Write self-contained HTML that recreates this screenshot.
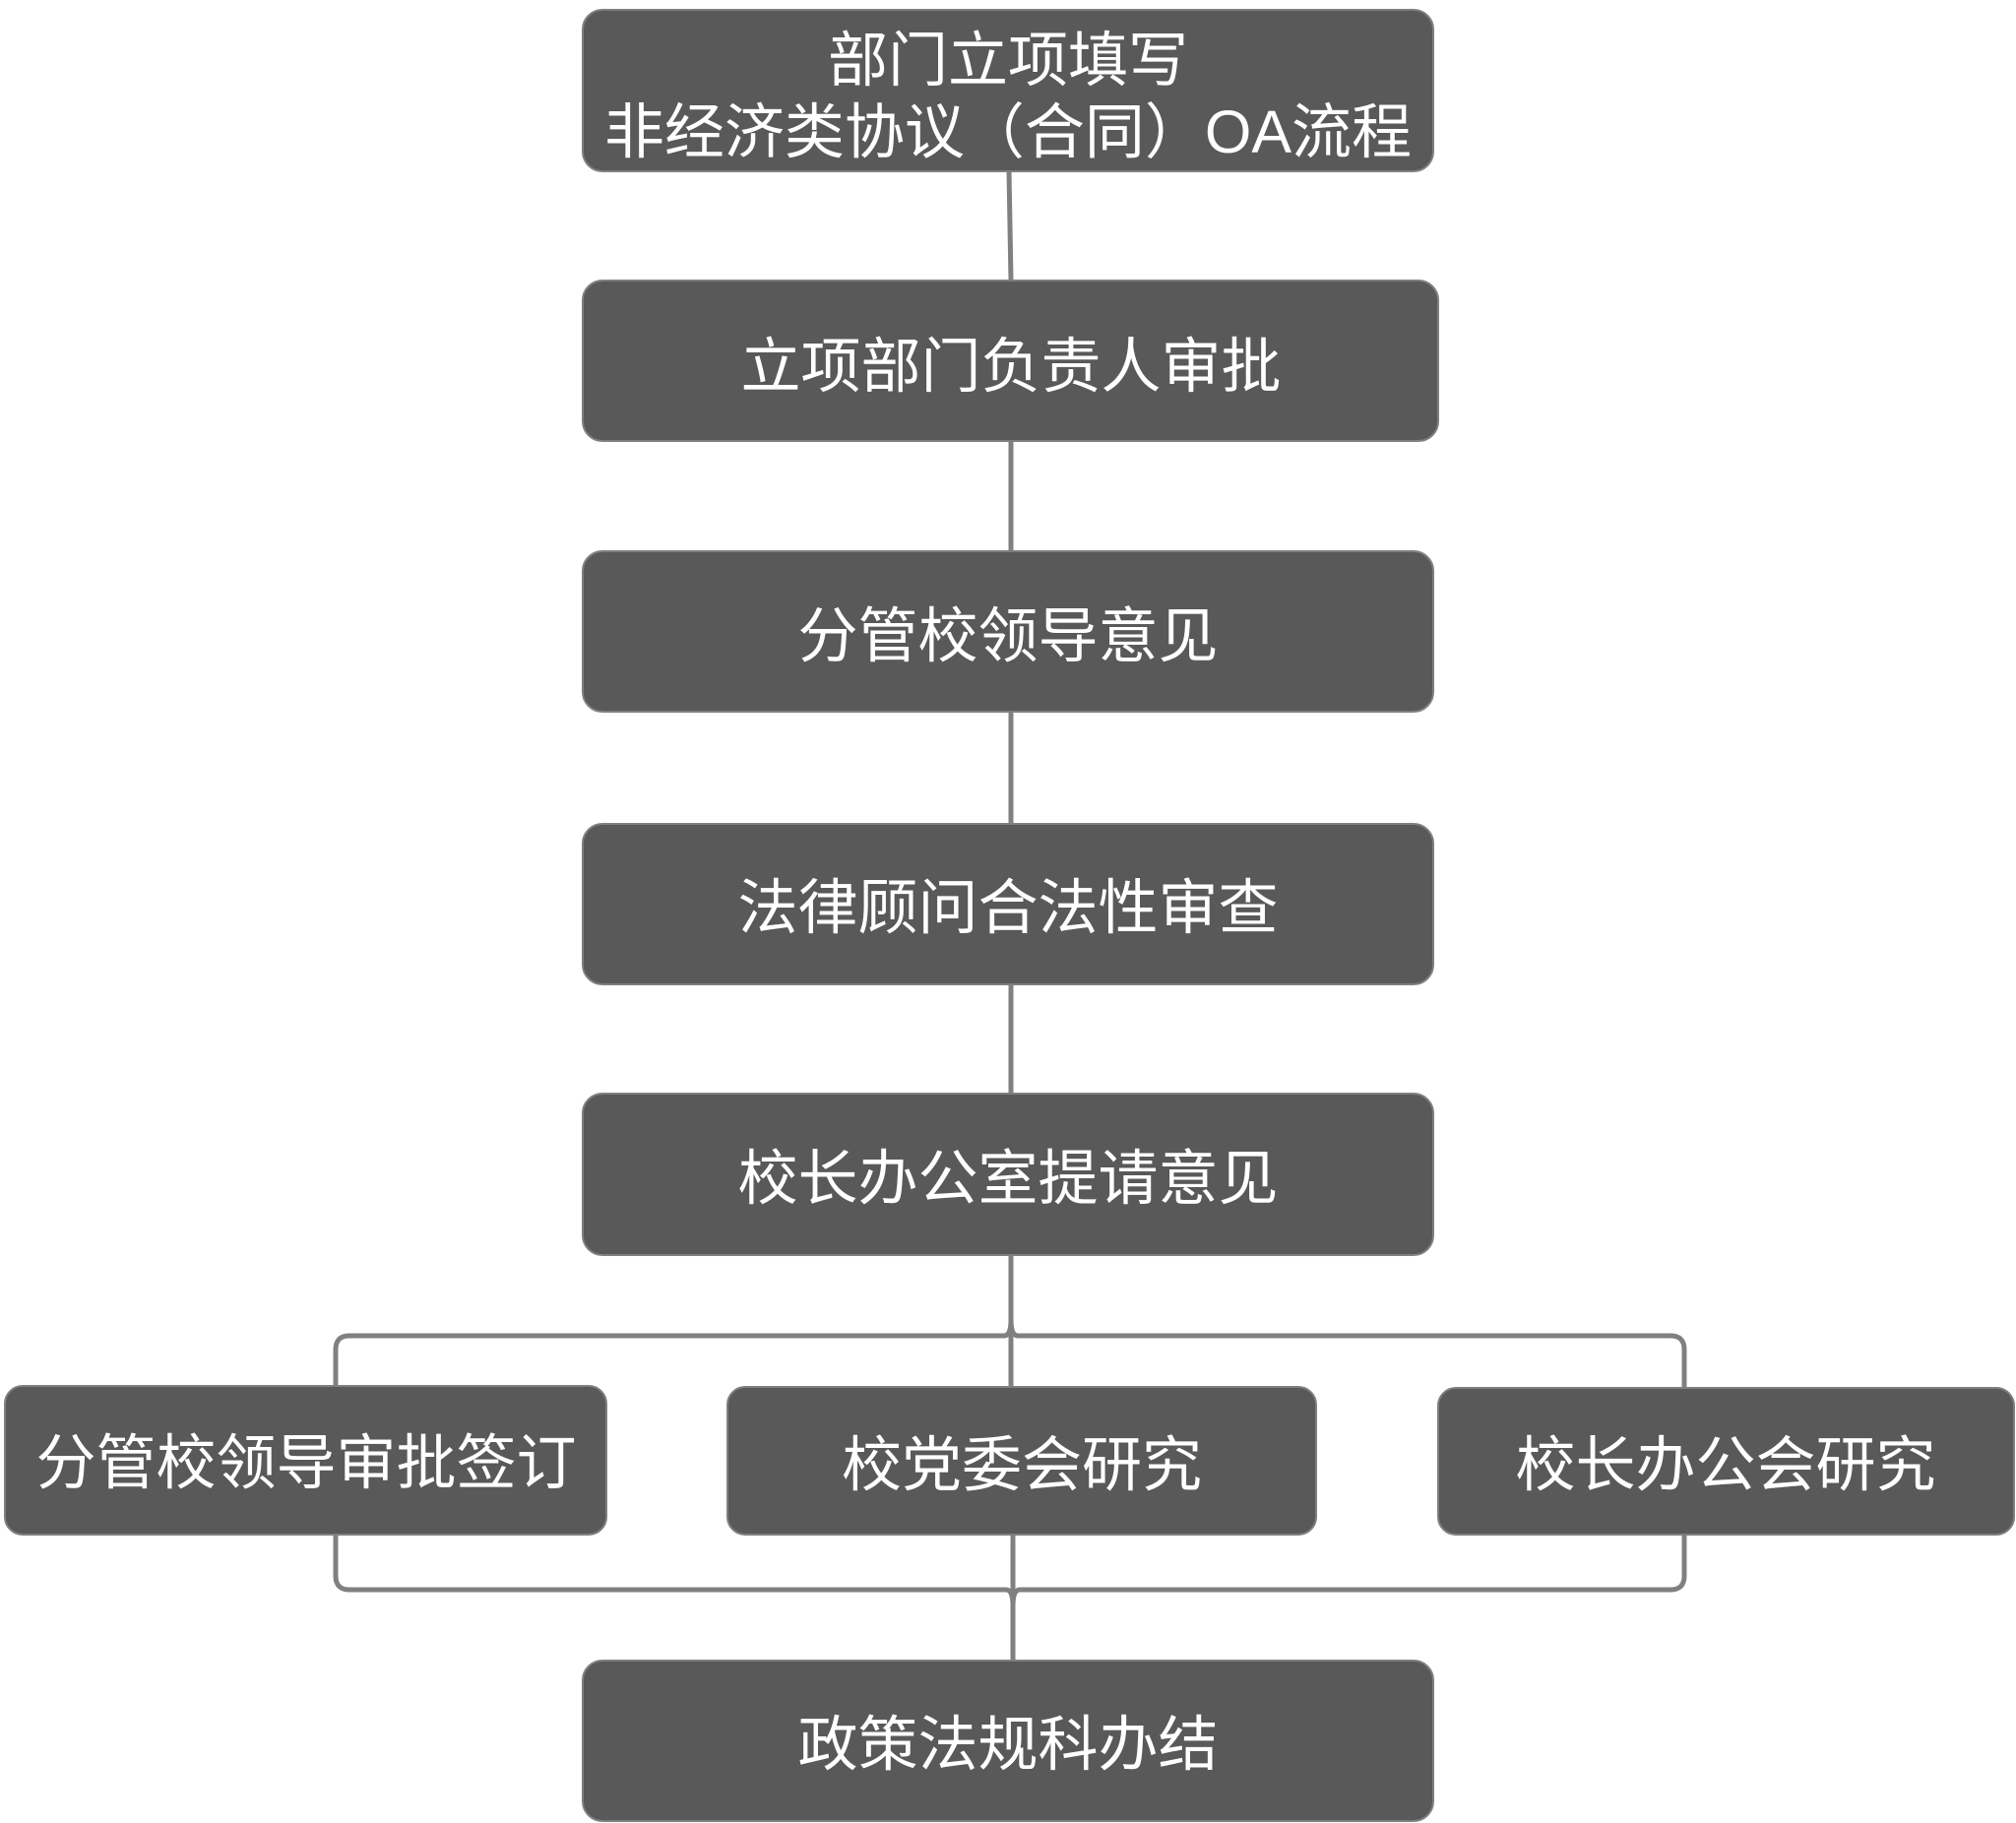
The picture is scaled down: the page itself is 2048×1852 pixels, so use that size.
<!DOCTYPE html>
<html><head><meta charset="utf-8"><style>
html,body{margin:0;padding:0;background:#fff;}
svg{display:block;}
text{font-family:"Liberation Sans","Noto Sans CJK SC",sans-serif;fill:#fff;font-size:61px;text-anchor:middle;dominant-baseline:central;}
</style></head><body>
<svg width="2048" height="1852" viewBox="0 0 2048 1852" xmlns="http://www.w3.org/2000/svg">
<g stroke="#808080" stroke-width="5" fill="none">
<line x1="1025" y1="174" x2="1027" y2="285"/>
<line x1="1027" y1="448" x2="1027" y2="560"/>
<line x1="1027" y1="723" x2="1027" y2="837"/>
<line x1="1027" y1="1000" x2="1027" y2="1111"/>
<path d="M1027 1275 V1340 Q1027 1357 1020 1357 H355 Q341 1357 341 1371 V1408"/>
<path d="M1027 1340 Q1027 1357 1034 1357 H1697 Q1711 1357 1711 1371 V1410"/>
<line x1="1027" y1="1340" x2="1027" y2="1409"/>
<path d="M341 1559 V1601 Q341 1615 355 1615 H1022 Q1029 1615 1029 1632 V1687"/>
<path d="M1711 1559 V1601 Q1711 1615 1697 1615 H1036 Q1029 1615 1029 1632"/>
<line x1="1029" y1="1559" x2="1029" y2="1632"/>
</g>
<g fill="#595959" stroke="#7f7f7f" stroke-width="2">
<rect x="592" y="10" width="864" height="164" rx="20"/>
<rect x="592" y="285" width="869" height="163" rx="20"/>
<rect x="592" y="560" width="864" height="163" rx="20"/>
<rect x="592" y="837" width="864" height="163" rx="20"/>
<rect x="592" y="1111" width="864" height="164" rx="20"/>
<rect x="5" y="1408" width="611" height="151" rx="18"/>
<rect x="739" y="1409" width="598" height="150" rx="18"/>
<rect x="1461" y="1410" width="585" height="149" rx="18"/>
<rect x="592" y="1687" width="864" height="163" rx="20"/>
</g>
<text x="1024" y="61">部门立项填写</text>
<text x="1024" y="134">非经济类协议（合同）OA流程</text>
<text x="1027" y="372">立项部门负责人审批</text>
<text x="1024" y="646">分管校领导意见</text>
<text x="1024" y="922">法律顾问合法性审查</text>
<text x="1024" y="1197">校长办公室提请意见</text>
<text x="311" y="1486">分管校领导审批签订</text>
<text x="1038" y="1488">校党委会研究</text>
<text x="1753" y="1488">校长办公会研究</text>
<text x="1024" y="1772">政策法规科办结</text>
</svg>
</body></html>
